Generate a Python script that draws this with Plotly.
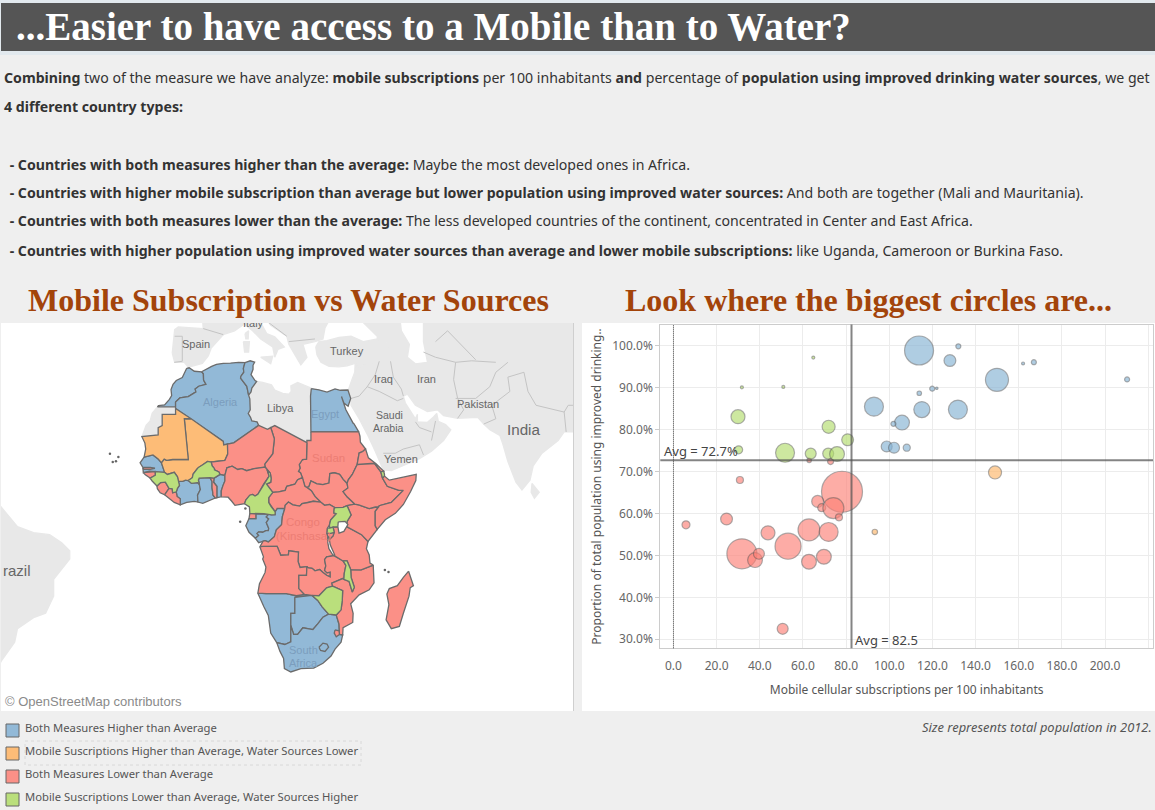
import numpy as np
import plotly.graph_objects as go

W = 1155
H = 810

BLUE = "#92b9d7"
ORANGE = "#fdbc77"
RED = "#fb9087"
GREEN = "#badf7c"
LAND = "#e8e8e8"

LEGEND_NAMES = [
    "Both Measures Higher than Average",
    "Mobile Suscriptions Higher than Average, Water Sources Lower",
    "Both Measures Lower than Average",
    "Mobile Suscriptions Lower than Average, Water Sources Higher",
]

# bubble chart values: mobile subs per 100, % improved water, population (millions)
blue_mobile = [113.8, 128.1, 132.0, 149.9, 162.0, 167.0, 210.2, 92.9, 113.9, 119.9, 122.0, 115.1, 131.8, 105.9, 101.9, 98.8, 102.2, 108.1]
blue_water = [98.9, 96.5, 99.9, 91.9, 95.8, 96.1, 92.0, 85.5, 88.7, 89.8, 89.9, 84.8, 84.8, 81.7, 81.4, 76.0, 75.7, 75.7]
blue_pop = [84, 14, 2.5, 53, 0.9, 2.5, 2.5, 36, 2, 2.5, 0.6, 26, 36, 22, 2.5, 12, 12, 5]

orange_mobile = [149.0, 93.3]
orange_water = [69.8, 55.6]
orange_pop = [17, 3]

red_mobile = [62.9, 72.8, 30.8, 78.1, 66.8, 68.7, 74.1, 76.7, 5.8, 24.6, 43.8, 62.8, 71.9, 53.1, 31.7, 37.8, 39.6, 62.8, 69.7, 50.6]
red_water = [72.7, 72.4, 68.0, 65.2, 62.9, 61.4, 61.3, 59.1, 57.3, 58.7, 55.4, 56.1, 55.6, 52.2, 50.4, 48.9, 50.4, 48.5, 49.7, 32.5]
red_pop = [2, 3.6, 4.9, 168, 14, 6.4, 44, 4.9, 6.4, 14, 19.6, 48, 36, 68, 90, 22, 12, 22, 22, 12]

green_mobile = [29.9, 31.7, 50.9, 64.8, 30.2, 51.7, 63.6, 71.9, 71.7, 75.8, 80.7]
green_water = [83.1, 90.1, 90.2, 97.2, 75.2, 74.5, 74.3, 80.7, 74.3, 74.2, 77.6]
green_pop = [19.6, 0.9, 0.9, 0.9, 6.4, 36, 12, 17, 12, 22, 14]

avg_mobile = 82.5
avg_water = 72.7

# country outlines, (lon, lat)
MOROCCO = [(-5.9,35.8),(-5.3,35.9),(-4.0,35.2),(-2.2,35.1),(-1.75,34.7),(-1.7,33.4),(-1.1,32.5),(-2.9,32.1),(-3.8,31.5),(-3.6,30.9),(-5.5,29.9),(-7.6,29.6),(-8.67,28.7),(-8.67,27.67),(-13.17,27.67),(-12.9,27.95),(-11.4,28.1),(-10.2,29.3),(-9.65,30.1),(-9.8,31.4),(-9.3,32.5),(-8.5,33.3),(-7.0,33.9),(-6.2,35.1)]
ALGERIA = [(-2.2,35.1),(-1.0,35.7),(0.3,36.2),(1.5,36.6),(3.2,36.8),(5.0,36.85),(7.0,37.0),(8.6,36.95),(8.2,35.8),(8.3,35.0),(7.6,34.2),(7.5,33.8),(9.05,32.1),(9.5,30.2),(9.8,29.4),(9.9,27.0),(9.4,26.2),(10.0,25.3),(10.3,24.5),(11.6,24.3),(12.0,23.5),(5.8,19.45),(4.25,19.15),(3.3,18.95),(3.2,19.8),(1.15,21.1),(-4.8,25.0),(-8.67,27.3),(-8.67,28.7),(-7.6,29.6),(-5.5,29.9),(-3.6,30.9),(-3.8,31.5),(-2.9,32.1),(-1.1,32.5),(-1.7,33.4),(-1.75,34.7)]
TUNISIA = [(8.6,36.95),(9.9,37.3),(11.0,37.05),(10.6,36.4),(10.6,35.6),(10.1,34.5),(11.1,33.3),(11.5,33.1),(10.3,31.7),(10.1,30.9),(9.5,30.2),(9.05,32.1),(7.5,33.8),(7.6,34.2),(8.3,35.0),(8.2,35.8)]
LIBYA = [(11.5,33.1),(13,32.9),(15.2,32.4),(16,31.3),(18,30.6),(19.5,30.4),(20.1,31),(20,32.2),(21.7,32.9),(23.2,32.3),(25.1,31.7),(24.9,30),(25,22),(25,20),(24,20),(24,19.5),(16,23.45),(15,23),(14.2,22.6),(12,23.5),(11.6,24.3),(10.3,24.5),(10,25.3),(9.4,26.2),(9.9,27),(9.8,29.4),(9.5,30.2),(10.1,30.9),(10.3,31.7)]
EGYPT = [(25.1,31.6),(27,31.35),(29,30.85),(31,31.55),(32.3,31.25),(34.2,31.3),(34.9,29.5),(34.25,27.8),(33.2,28.5),(32.6,29.9),(33.7,27),(35.5,24),(35.7,23.9),(36.9,22),(25,22),(24.9,30)]
SUDAN = [(25,22),(36.9,22),(37.2,21),(37.3,19.6),(38.6,18),(37.9,17.4),(37,17.05),(36.5,14.3),(35.3,11.9),(34.3,10.6),(34,9.7),(33,10.7),(32.3,11.7),(32,12),(30.8,12.3),(29.7,12.1),(29.5,9.8),(28,9.4),(26.5,9.6),(25,10.3),(24.5,8.9),(24,8.7),(23.5,9),(22.9,11.1),(22.4,12.3),(21.9,12.6),(22.3,13.4),(22.1,14.3),(22.9,15.5),(23.9,15.6),(24,19.5),(24,20),(25,20)]
SOUTH_SUDAN = [(24,8.7),(24.5,8.9),(25,10.3),(26.5,9.6),(28,9.4),(29.5,9.8),(29.7,12.1),(30.8,12.3),(32,12),(32.3,11.7),(33,10.7),(34,9.7),(34.2,8.6),(33,7.7),(34,6.4),(35.9,4.6),(34,4.2),(33,3.8),(31,3.7),(29.6,4.5),(28.4,4.3),(27.4,5.1),(26,6.5),(25.1,7.9)]
CHAD = [(24,19.5),(16,23.45),(15,23),(15.9,20.4),(15.5,16.9),(13.5,14.4),(13.6,13.7),(14.1,13.05),(14.9,12.2),(15.1,10.9),(15,10),(13.95,9.55),(15.5,7.5),(17,7.6),(18.6,8),(19,9),(21,9.5),(21.7,10.6),(22.9,11.1),(22.4,12.3),(21.9,12.6),(22.3,13.4),(22.1,14.3),(22.9,15.5),(23.9,15.6)]
NIGER = [(12,23.5),(14.2,22.6),(15,23),(15.9,20.4),(15.5,16.9),(13.5,14.4),(13.6,13.7),(12.9,13.5),(10.9,13.3),(9,12.8),(7.8,13.3),(6.8,13.1),(5.4,13.9),(4.1,13.5),(3.6,11.7),(2.4,11.9),(2.1,12.5),(1,13),(1,13.3),(0.4,14),(0.2,14.9),(3.6,15.3),(4.3,16.8),(4.25,19.15),(5.8,19.45)]
MALI = [(-4.8,25),(1.15,21.1),(3.2,19.8),(3.3,18.95),(4.25,19.15),(4.3,16.8),(3.6,15.3),(0.2,14.9),(-0.7,15.05),(-2,14.2),(-3,13.6),(-3.3,13.3),(-4.3,12),(-4.5,11.1),(-5.5,10.4),(-6.2,10.5),(-6.9,10.2),(-8,10.2),(-8.2,11.3),(-9,12.4),(-10.7,11.9),(-11.4,12.4),(-12.2,14.75),(-11.5,15.6),(-10.9,15.3),(-9.4,15.5),(-5.5,15.5),(-5.6,16),(-6.5,25)]
MAURITANIA = [(-8.67,27.3),(-4.8,25),(-6.5,25),(-5.6,16),(-5.5,15.5),(-9.4,15.5),(-10.9,15.3),(-11.5,15.6),(-12.2,14.75),(-13,15.6),(-14.3,16.6),(-16.5,16.1),(-16.1,18),(-16.3,19.4),(-17.05,20.9),(-13,21.33),(-13,23),(-12,23.45),(-12,26),(-8.67,26)]
W_SAHARA = [(-8.67,27.67),(-13.17,27.67),(-14.5,26.2),(-15,24.5),(-16,23.5),(-17,21.4),(-17.05,20.9),(-13,21.33),(-13,23),(-12,23.45),(-12,26),(-8.67,26)]
SENEGAL = [(-16.5,16.1),(-14.3,16.6),(-13,15.6),(-12.2,14.75),(-11.4,12.4),(-12.4,12.4),(-13.7,12.6),(-15.2,12.7),(-16.7,12.35),(-16.8,13.6),(-17.5,14.7)]
GAMBIA = [(-16.8,13.15),(-15,13.15),(-13.8,13.4),(-15,13.6),(-16.6,13.6)]
GUINEA_BISSAU = [(-16.7,12.35),(-13.7,12.6),(-13.7,11.7),(-15,11),(-16.2,11.8)]
GUINEA = [(-13.7,12.6),(-12.4,12.4),(-11.4,12.4),(-10.7,11.9),(-9,12.4),(-8.2,11.3),(-8,10.2),(-7.7,9.2),(-8.2,8.5),(-8.5,7.6),(-9.4,7.4),(-9.5,8.4),(-10.3,8.5),(-10.7,9.3),(-11.2,10),(-12.4,9.9),(-13.3,9.05),(-14.5,10.3),(-15,11),(-13.7,11.7)]
SIERRA_LEONE = [(-13.3,9.05),(-12.4,9.9),(-11.2,10),(-10.7,9.3),(-10.3,8.5),(-10.6,8),(-11.4,6.9),(-12.5,7.4),(-13.2,8.4)]
LIBERIA = [(-11.4,6.9),(-10.6,8),(-10.3,8.5),(-9.5,8.4),(-9.4,7.4),(-8.5,7.6),(-8.3,6.5),(-7.5,5.9),(-7.5,4.4),(-9,5),(-10.7,6.2)]
IVORY_COAST = [(-8,10.2),(-6.9,10.2),(-6.2,10.5),(-5.5,10.4),(-4.7,9.7),(-3.2,9.9),(-2.7,9.4),(-2.5,8.2),(-3.2,6.8),(-3.1,5.1),(-4,5.25),(-5.9,5),(-7.5,4.4),(-7.5,5.9),(-8.3,6.5),(-8.5,7.6),(-8.2,8.5),(-7.7,9.2)]
BURKINA = [(-5.5,10.4),(-4.5,11.1),(-4.3,12),(-3.3,13.3),(-3,13.6),(-2,14.2),(-0.7,15.05),(0.2,14.9),(0.4,14),(1,13.3),(1,13),(2.1,12.5),(2.4,11.9),(1.4,11.3),(0.9,11),(-0.1,11.1),(-2.8,11),(-3,10.5),(-2.7,9.4),(-3.2,9.9),(-4.7,9.7)]
GHANA = [(-2.8,11),(-0.1,11.1),(0.4,10.2),(0.4,8.6),(0.6,7.4),(0.6,6.9),(1.2,6.1),(-0.5,5.4),(-1.9,4.8),(-3.1,5.1),(-3.2,6.8),(-2.5,8.2),(-2.7,9.4),(-3,10.5)]
TOGO = [(-0.1,11.1),(0.9,11),(0.8,10),(1.6,9),(1.6,6.2),(1.2,6.1),(0.6,6.9),(0.6,7.4),(0.4,8.6),(0.4,10.2)]
BENIN = [(0.9,11),(1.4,11.3),(2.4,11.9),(3.6,11.7),(3.6,10.3),(3.1,9.1),(2.7,7.9),(2.7,6.4),(1.6,6.2),(1.6,9),(0.8,10)]
NIGERIA = [(2.7,6.4),(2.7,7.9),(3.1,9.1),(3.6,10.3),(3.6,11.7),(4.1,13.5),(5.4,13.9),(6.8,13.1),(7.8,13.3),(9,12.8),(10.9,13.3),(12.9,13.5),(13.6,13.7),(14.1,13.05),(14.6,11.5),(13.2,9.5),(12.8,8.7),(11.8,7),(11.1,6.6),(10.5,7),(9.8,6.8),(8.8,5.6),(8.5,4.7),(7.1,4.5),(6.1,4.3),(5.3,5.3),(4.4,6.3)]
CAMEROON = [(14.1,13.05),(14.9,12.2),(15.1,10.9),(15,10),(13.95,9.55),(15.5,7.5),(14.5,6.2),(14.5,5),(15.1,4),(16.1,2.7),(16.1,2),(15.2,1.9),(13.3,2.2),(9.8,2.3),(9.7,3.9),(8.9,4.5),(8.5,4.7),(8.8,5.6),(9.8,6.8),(10.5,7),(11.1,6.6),(11.8,7),(12.8,8.7),(13.2,9.5),(14.6,11.5)]
CAR = [(15.5,7.5),(17,7.6),(18.6,8),(19,9),(21,9.5),(21.7,10.6),(22.9,11.1),(23.5,9),(24,8.7),(25.1,7.9),(26,6.5),(27.4,5.1),(25.6,5.3),(24,4.9),(22.8,4.7),(22.2,4.1),(20.5,4.4),(19.4,5.1),(18.6,4.3),(18.5,3.5),(17,3.6),(16.6,3.5),(16.1,2.7),(15.1,4),(14.5,5),(14.5,6.2)]
EQ_GUINEA = [(9.8,2.3),(11.3,2.2),(11.3,1),(9.6,1)]
GABON = [(9.6,1),(11.3,1),(11.3,2.2),(13.3,2.2),(14.5,2.1),(13.9,1.4),(14.5,0.9),(13.9,0),(14.5,-1.4),(14.4,-2),(13.8,-2),(13,-2.4),(12,-2.3),(11.6,-2.7),(12,-3.2),(11.2,-3.9),(9.6,-2.4),(8.8,-0.8),(9.3,0.3)]
CONGO = [(16.1,2.7),(16.6,3.5),(17,3.6),(18.5,3.5),(17.9,1.5),(17.7,-0.5),(16.4,-1.8),(15.9,-3.5),(15,-4.3),(14.4,-4.8),(13.6,-4.5),(13.1,-4.6),(12,-5),(11.2,-3.9),(12,-3.2),(11.6,-2.7),(12,-2.3),(13,-2.4),(13.8,-2),(14.4,-2),(14.5,-1.4),(13.9,0),(14.5,0.9),(13.9,1.4),(14.5,2.1),(15.2,1.9),(16.1,2)]
DR_CONGO = [(18.5,3.5),(18.6,4.3),(19.4,5.1),(20.5,4.4),(22.2,4.1),(22.8,4.7),(24,4.9),(25.6,5.3),(27.4,5.1),(28.4,4.3),(29.6,4.5),(31,3.7),(30.8,3.5),(30.7,2.4),(31.3,2.2),(29.9,0.6),(29.6,-0.6),(29.1,-1.4),(29,-2.7),(29.2,-3.3),(29.4,-4.4),(29.6,-6.5),(30.8,-8.2),(28.9,-8.5),(28.4,-9.2),(28.7,-10.7),(28.4,-11.8),(29,-12.4),(29.8,-12.2),(29.8,-13.4),(28.9,-13),(28,-12.3),(27.2,-11.6),(26,-11.9),(25.3,-11.3),(24.4,-11.2),(24,-10.9),(22.3,-11.1),(21.8,-9.6),(21.9,-7.3),(19.5,-7),(19.4,-8),(17.5,-8.1),(16.6,-5.9),(13,-5.9),(12.3,-6),(13.1,-4.6),(13.6,-4.5),(14.4,-4.8),(15,-4.3),(15.9,-3.5),(16.4,-1.8),(17.7,-0.5),(17.9,1.5)]
ANGOLA = [(12.3,-6),(13,-5.9),(16.6,-5.9),(17.5,-8.1),(19.4,-8),(19.5,-7),(21.9,-7.3),(21.8,-9.6),(22.3,-11.1),(24,-10.9),(23.9,-13),(22,-13),(22,-16.2),(23.4,-17.6),(21.4,-17.9),(18.9,-17.4),(13.9,-17.4),(11.8,-17.3),(12.2,-15),(13.6,-12.3),(13.8,-11),(13,-9),(13.2,-8.5)]
NAMIBIA = [(11.8,-17.3),(13.9,-17.4),(18.9,-17.4),(21.4,-17.9),(23.4,-17.6),(25.2,-17.8),(23.4,-18),(21,-18.3),(21,-22),(20,-22),(20,-28.4),(18.5,-29),(16.5,-28.6),(15,-26.5),(14.4,-22.5),(13.3,-20.5)]
BOTSWANA = [(21,-18.3),(23.4,-18),(25.2,-17.8),(26.7,-19),(27.8,-20.5),(29.4,-22.2),(28,-22.9),(26.8,-24.3),(25.5,-25.7),(23,-25.3),(21.7,-26.8),(20.7,-26.8),(20,-24.8),(20,-22),(21,-22)]
ZAMBIA = [(30.8,-8.2),(33,-9.5),(33.7,-10.6),(33.3,-12.5),(33.2,-14),(32.9,-13.8),(30.2,-14.9),(30.4,-15.6),(28.9,-16),(27,-17.9),(25.2,-17.8),(23.4,-17.6),(22,-16.2),(22,-13),(23.9,-13),(24,-10.9),(24.4,-11.2),(25.3,-11.3),(26,-11.9),(27.2,-11.6),(28,-12.3),(28.9,-13),(29.8,-13.4),(29.8,-12.2),(29,-12.4),(28.4,-11.8),(28.7,-10.7),(28.4,-9.2),(28.9,-8.5)]
ZIMBABWE = [(25.2,-17.8),(27,-17.9),(28.9,-16),(30.4,-15.6),(32.9,-16.7),(32.8,-19),(32.5,-21.2),(31.3,-22.4),(29.4,-22.2),(27.8,-20.5),(26.7,-19)]
MOZAMBIQUE = [(40.5,-10.5),(40.7,-14.8),(39.5,-16.5),(37,-17.7),(34.9,-19.8),(35.5,-22),(35.4,-24.1),(33,-25.3),(32.9,-26.9),(32.1,-26.8),(32,-24.5),(31.3,-22.4),(32.5,-21.2),(32.8,-19),(32.9,-16.7),(30.4,-15.6),(30.2,-14.9),(32.9,-13.8),(33.2,-14),(34.5,-14.5),(35.3,-17),(35.8,-15.9),(35,-13.5),(34.9,-11.6),(37.5,-11.7),(38.5,-11.3)]
MALAWI = [(33,-9.5),(34,-9.5),(34.9,-11.6),(35,-13.5),(35.8,-15.9),(35.3,-17),(34.5,-14.5),(33.2,-14),(33.3,-12.5),(33.7,-10.6)]
TANZANIA = [(33.9,-1),(37.6,-3),(39.2,-4.7),(38.8,-6.5),(39.5,-8),(39.7,-10),(40.5,-10.5),(38.5,-11.3),(37.5,-11.7),(34.9,-11.6),(34,-9.5),(33,-9.5),(30.8,-8.2),(29.6,-6.5),(29.4,-4.4),(30.5,-3.3),(30.8,-2.4),(30.5,-1.1),(31.9,-1)]
KENYA = [(33.9,-1),(34,0.3),(35,1.9),(34,4.2),(35.9,4.6),(36.9,4.4),(39.5,3.5),(41,3.9),(41.9,3.95),(41,2.8),(41,-0.8),(41.5,-1.7),(39.2,-4.7),(37.6,-3)]
UGANDA = [(30.5,-1.1),(31.9,-1),(33.9,-1),(34,0.3),(35,1.9),(34,4.2),(33,3.8),(31,3.7),(30.8,3.5),(30.7,2.4),(31.3,2.2),(29.9,0.6),(29.6,-0.6),(29.7,-1.4)]
RWANDA = [(29.1,-1.4),(29.7,-1.4),(30.5,-1.1),(30.8,-2.4),(29.9,-2.7),(29,-2.7)]
BURUNDI = [(29,-2.7),(29.9,-2.7),(30.8,-2.4),(30.5,-3.3),(29.4,-4.4),(29.2,-3.3)]
ETHIOPIA = [(36.5,14.3),(38,14.5),(39.5,14.5),(40.8,14.6),(42.4,12.5),(42.8,11),(44,9),(46.9,8),(48,8),(45,5),(42,4.2),(41.9,3.95),(41,3.9),(39.5,3.5),(36.9,4.4),(35.9,4.6),(34,6.4),(33,7.7),(34.2,8.6),(34,9.7),(34.3,10.6),(35.3,11.9)]
ERITREA = [(36.5,14.3),(37,17.05),(37.9,17.4),(38.6,18),(39.3,15.9),(41.2,14.5),(43.1,12.7),(42.4,12.5),(40.8,14.6),(39.5,14.5),(38,14.5)]
DJIBOUTI = [(42.4,12.5),(43.1,12.7),(43.3,11.9),(43.3,11.5),(42.8,11)]
SOMALIA = [(42.8,11),(43.3,11.5),(44.5,10.5),(46,10.8),(48,11.2),(51.2,11.9),(51.1,10.4),(49.8,7.7),(48,4.5),(46,2.3),(43.5,0.7),(41.5,-1.7),(41,-0.8),(41,2.8),(41.9,3.95),(42,4.2),(45,5),(48,8),(46.9,8),(44,9)]
MADAGASCAR = [(49.3,-12),(50.5,-15.5),(49.7,-16),(49.4,-18),(48,-22),(47,-25),(45,-25.5),(43.7,-23.5),(44.4,-20),(43.9,-17.5),(44.5,-16.2),(46.5,-15.5),(48,-13.5)]
SOUTH_AFRICA = [(16.5,-28.6),(18.5,-29),(20,-28.4),(20,-24.8),(20.7,-26.8),(21.7,-26.8),(23,-25.3),(25.5,-25.7),(26.8,-24.3),(28,-22.9),(29.4,-22.2),(31.3,-22.4),(32,-24.5),(32.1,-26.8),(32.9,-26.9),(32.5,-28.5),(31,-30),(30,-31.5),(28,-33),(25.7,-34),(22.5,-34.1),(20,-34.8),(18.4,-34.1),(18.2,-32),(17.3,-30.5)]
LESOTHO = [(27,-29.6),(28,-28.7),(29,-28.9),(29.4,-29.6),(28.5,-30.5),(27.4,-30.3)]
SWAZILAND = [(31,-25.8),(32,-26),(32.1,-26.8),(31.3,-27.3),(30.8,-26.5)]
LAKE_VICTORIA = [(31.8,0.2),(33.5,0.3),(34.2,-0.5),(33.2,-2.2),(32,-2.6),(31.7,-1)]
LAKE_TANGANYIKA = [(29.2,-3.4),(29.5,-3.6),(29.8,-5.5),(30.9,-8),(30.5,-8.1),(29.5,-6.5),(29.2,-5)]

# grey countries around Africa
IBERIA = [(-9.5,38.8),(-8.9,43.2),(-8,43.7),(-1.8,43.4),(3.2,42.3),(0.2,39.8),(-0.5,38.3),(-2,36.8),(-5.5,36),(-6.5,37),(-8.9,37)]
FRANCE = [(-2,45.5),(-1.8,43.4),(3.2,42.3),(6,43),(8,44),(8,45.5)]
ITALY = [(8,44.4),(10.5,43),(12.5,41.5),(15.5,40),(16,38),(16.8,39.5),(18.4,40),(16,41.9),(14,42.5),(12.5,44.5),(13.5,45.5),(8,45.5)]
SICILY = [(12.5,38),(15.5,38.2),(15,36.7)]
SARDINIA = [(8.2,41),(9.7,41),(9.5,39),(8.5,39)]
CORSICA = [(8.6,42.5),(9.5,43),(9.4,41.5),(8.8,41.5)]
BALKANS = [(13.5,45.5),(15,44),(19,42),(19.5,40.5),(21,38.5),(22.5,36.5),(24,38),(23,40.5),(26,41),(28,41.5),(28.5,43.5),(30,45.5)]
TURKEY = [(26.2,40),(26.5,38.5),(27.5,37),(29.5,36.2),(32,36.1),(34,36.3),(36,36.8),(36.5,36),(42,37.2),(44.8,37.2),(44.8,39.7),(43.5,41),(41.5,41.5),(38,41),(35,42),(32,41.8),(29,41.2),(27,41)]
ASIA = [(36,36.8),(35.9,35),(35,33),(34.3,31.3),(34.9,29.5),(35,28),(37,25),(39,21.5),(41,17.5),(43,13),(45,12.8),(48,14),(52,15.7),(55,17.5),(58,20),(59.8,22.5),(58.5,23.7),(56.7,24.4),(56.3,26.2),(55.5,25.4),(54,24.2),(51.5,24.3),(51.5,26),(51,25),(50,26.5),(48.5,28.5),(48,30),(49,30.4),(51,28),(54,26.6),(56.5,27),(58,25.7),(61.5,25.1),(66.5,25.3),(68,23.8),(69.5,22.5),(72,21.2),(72.8,19),(74,15),(76,10),(77.5,8.1),(79.5,10.5),(80.3,14),(82.5,17),(86.5,20),(88,22),(90.3,22),(92,21),(92,46),(53,46),(53,41),(54,37),(51,36.7),(49,38),(49.5,40.5),(47.5,43),(47,46),(38,46),(38,44.5),(41.5,42),(41.5,41.5),(43.5,41),(44.8,39.7),(44.8,37.2),(42,37.2),(36.5,36)]
SRI_LANKA = [(80,9.7),(81.8,7.5),(80.6,6),(79.8,7.5)]
BRAZIL = [(-53,5),(-50,1.5),(-48,-1),(-44,-2.5),(-40,-3),(-37,-5),(-35,-7),(-35,-9),(-37,-11.5),(-39,-14),(-39,-18),(-41,-22),(-44,-23),(-48,-25.5),(-48.7,-28.5),(-52,-32.5),(-53,-34)]

BORDERS = [
    [(42,37.2),(41,34.5),(39,32),(42,31),(46.5,29),(48,29.5)],
    [(44.8,37.2),(45.5,34),(47.5,31.5),(48,30)],
    [(35,29.5),(37,30),(39,32)],
    [(61,37),(60.5,33.5),(61,31.5),(61.5,29.5),(63,27),(61.5,25.1)],
    [(61,29.5),(66,29.5),(69.5,32),(71,35),(74,37)],
    [(53,39),(56,38),(61,37),(65,37.3),(71,37)],
    [(68,23.8),(71,25),(70,28),(74.5,31),(74,34),(78,35)],
    [(78,35),(79,31),(81,28),(88,26.5),(89,28),(92,28)],
    [(88,26.5),(88.5,22)],
    [(43,17),(46,17),(48,18),(52,19),(53,16.6)],
    [(55,20),(55.5,22),(56,24.5)],
    [(51,24.3),(52,23),(55,22)],
    [(56,41),(59,43),(66,37.5)],
    [(-9,37),(-7,37.2),(-7,42),(-8.9,42)],
    [(-1.8,43.4),(3.2,42.3)],
    [(13.5,45),(19,42)],
    [(19.5,41),(26,41.5)],
]

CAPE_VERDE_LON = [-25.0, -23.5, -24.3, -22.9]
CAPE_VERDE_LAT = [16.9, 15.1, 14.9, 16.1]
OTHER_ISLANDS_LON = [7.4, 8.7, 43.4, 44.3]
OTHER_ISLANDS_LAT = [0.2, 3.5, -11.7, -12.2]

BLUE_COUNTRIES = [MOROCCO, ALGERIA, TUNISIA, EGYPT, SENEGAL, IVORY_COAST, GHANA, BENIN, GABON, CONGO, NAMIBIA, BOTSWANA, SOUTH_AFRICA, LESOTHO]
ORANGE_COUNTRIES = [MALI, MAURITANIA]
RED_COUNTRIES = [SUDAN, SOUTH_SUDAN, CHAD, NIGER, GAMBIA, GUINEA_BISSAU, SIERRA_LEONE, LIBERIA, TOGO, NIGERIA, CAR, EQ_GUINEA, DR_CONGO, ANGOLA, ZAMBIA, MOZAMBIQUE, TANZANIA, KENYA, BURUNDI, ETHIOPIA, ERITREA, SOMALIA, MADAGASCAR, SWAZILAND]
GREEN_COUNTRIES = [GUINEA, BURKINA, CAMEROON, ZIMBABWE, MALAWI, UGANDA, RWANDA, DJIBOUTI]
GREY_COUNTRIES = [LIBYA, W_SAHARA, IBERIA, FRANCE, ITALY, SICILY, SARDINIA, CORSICA, BALKANS, TURKEY, ASIA, SRI_LANKA, BRAZIL]


def merc(lat):
    return np.log(np.tan(np.pi / 4 + np.radians(np.array(lat, dtype=float)) / 2))


def px(x):
    return x / W


def py(y):
    return 1 - y / H


def add_country(fig, pts, fill, line):
    lon = [p[0] for p in pts] + [pts[0][0]]
    lat = [p[1] for p in pts] + [pts[0][1]]
    fig.add_trace(go.Scatter(x=lon, y=merc(lat), mode="lines", fill="toself", fillcolor=fill,
                             line=dict(color=line, width=1.3), xaxis="x2", yaxis="y2",
                             hoverinfo="skip", showlegend=False))


def text(x, y, s, size=14, color="#333333", font="Noto Sans", anchor="left", **kw):
    return dict(x=px(x), y=py(y), xref="paper", yref="paper", text=s, showarrow=False,
                xanchor=anchor, yanchor="middle", align=anchor,
                font=dict(family=font, size=size, color=color), **kw)


fig = go.Figure()

# map
for c in GREY_COUNTRIES:
    add_country(fig, c, LAND, LAND)
for b in BORDERS:
    fig.add_trace(go.Scatter(x=[p[0] for p in b], y=merc([p[1] for p in b]), mode="lines",
                             line=dict(color="#c4c4c4", width=1), xaxis="x2", yaxis="y2",
                             hoverinfo="skip", showlegend=False))
for group, col in [(BLUE_COUNTRIES, BLUE), (ORANGE_COUNTRIES, ORANGE), (RED_COUNTRIES, RED), (GREEN_COUNTRIES, GREEN)]:
    for c in group:
        add_country(fig, c, col, "#6b6b6b")
for lake in [LAKE_VICTORIA, LAKE_TANGANYIKA]:
    add_country(fig, lake, "white", "#6b6b6b")
fig.add_trace(go.Scatter(x=CAPE_VERDE_LON + OTHER_ISLANDS_LON, y=merc(CAPE_VERDE_LAT + OTHER_ISLANDS_LAT),
                         mode="markers", marker=dict(size=2.5, color="#666666"), xaxis="x2", yaxis="y2",
                         hoverinfo="skip", showlegend=False))
# Italy's label is cut by the top of the map, a text trace gets clipped by the axes
fig.add_trace(go.Scatter(x=[10.6], y=merc([44.15]), mode="text", text=["Italy"], textposition="middle center",
                         textfont=dict(family="Liberation Sans", size=11, color="#666666"),
                         xaxis="x2", yaxis="y2", hoverinfo="skip", showlegend=False))

# bubbles
for xs, ys, pop, col, name in [
    (blue_mobile, blue_water, blue_pop, "rgba(132,178,212,0.92)", LEGEND_NAMES[0]),
    (orange_mobile, orange_water, orange_pop, "rgba(253,182,105,0.92)", LEGEND_NAMES[1]),
    (red_mobile, red_water, red_pop, "rgba(253,128,118,0.92)", LEGEND_NAMES[2]),
    (green_mobile, green_water, green_pop, "rgba(178,220,108,0.92)", LEGEND_NAMES[3]),
]:
    fig.add_trace(go.Scatter(x=xs, y=ys, mode="markers", name=name, showlegend=False,
                             marker=dict(size=pop, sizemode="area", sizeref=0.2, color=col,
                                         line=dict(color="rgba(80,80,80,0.65)", width=1.2))))

shapes = [
    dict(type="rect", xref="paper", yref="paper", x0=0, x1=1, y0=py(55), y1=1,
         fillcolor="#e2e9ee", line_width=0, layer="below"),
    dict(type="rect", xref="paper", yref="paper", x0=px(1), x1=px(1155), y0=py(3), y1=py(51),
         fillcolor="#555555", line_width=0, layer="below"),
    dict(type="rect", xref="paper", yref="paper", x0=px(1), x1=px(574), y0=py(323), y1=py(711),
         fillcolor="white", line_width=0, layer="below"),
    dict(type="line", xref="paper", yref="paper", x0=px(573.5), x1=px(573.5), y0=py(323), y1=py(711),
         line=dict(color="#cfcfcf", width=1), layer="above"),
    dict(type="rect", xref="paper", yref="paper", x0=px(582), x1=px(1155), y0=py(323), y1=py(711),
         fillcolor="white", line_width=0, layer="below"),
    dict(type="line", xref="x", yref="paper", x0=avg_mobile, x1=avg_mobile, y0=py(648.3), y1=py(324.5),
         line=dict(color="rgba(80,80,80,0.7)", width=2), layer="above"),
    dict(type="line", xref="paper", yref="y", x0=px(660.3), x1=px(1153), y0=avg_water, y1=avg_water,
         line=dict(color="rgba(80,80,80,0.7)", width=2), layer="above"),
    dict(type="line", xref="x", yref="paper", x0=0, x1=0, y0=py(648.3), y1=py(324.5),
         line=dict(color="#444444", width=1, dash="1px,1px"), layer="above"),
    dict(type="rect", xref="paper", yref="paper", x0=px(25), x1=px(361), y0=py(741), y1=py(765),
         fillcolor="rgba(0,0,0,0)", line=dict(color="#d8d8d8", width=1, dash="dot"), layer="below"),
]
for yy, col in zip([724, 747, 770, 793], [BLUE, ORANGE, RED, GREEN]):
    shapes.append(dict(type="rect", xref="paper", yref="paper", x0=px(6), x1=px(19), y0=py(yy), y1=py(yy + 13),
                       fillcolor=col, line=dict(color="#666666", width=1), layer="below"))

body = "Noto Sans"
annotations = [
    text(14, 27, "<b>...Easier to have access to a Mobile than to Water?</b>", size=39, color="white", font="Liberation Serif"),
    text(2, 77, "<b>Combining</b> two of the measure we have analyze: <b>mobile subscriptions</b> per 100 inhabitants <b>and</b> percentage of <b>population using improved drinking water sources</b>, we get", size=14.14, font=body),
    text(2, 106, "<b>4 different country types:</b>", size=14.14, font=body),
    text(4, 164, "<b> - Countries with both measures higher than the average:</b> Maybe the most developed ones in Africa.", size=14.14, font=body),
    text(4, 192, "<b> - Countries with higher mobile subscription than average but lower population using improved water sources:</b> And both are together (Mali and Mauritania).", size=14.14, font=body),
    text(4, 221, "<b> - Countries with both measures lower than the average:</b> The less developed countries of the continent, concentrated in Center and East Africa.", size=14.14, font=body),
    text(4, 250, "<b> - Countries with higher population using improved water sources than average and lower mobile subscriptions:</b> like Uganda, Cameroon or Burkina Faso.", size=14.14, font=body),
    text(288, 300, "<b>Mobile Subscription vs Water Sources</b>", size=32, color="#a3440a", font="Liberation Serif", anchor="center"),
    text(868, 300, "<b>Look where the biggest circles are...</b>", size=32, color="#a3440a", font="Liberation Serif", anchor="center"),
    text(3, 701, "© OpenStreetMap contributors", size=13, color="#8a8a8a", font="Liberation Sans"),
    text(1154, 727, "<i>Size represents total population in 2012.</i>", size=12.9, color="#555555", font=body, anchor="right"),
    text(662, 451, "Avg = 72.7%", size=13, color="#444444", font=body),
    text(853, 640, "Avg = 82.5", size=13, color="#444444", font=body),
]
for yy, name in zip([727, 750, 773, 796], LEGEND_NAMES):
    annotations.append(text(23, yy, name, size=11.25, color="#555555", font=body))
for x, y, s, size, col in [
    (196, 344, "Spain", 11, "#666666"), (347, 351, "Turkey", 11, "#666666"),
    (383, 379, "Iraq", 11, "#666666"), (426, 379, "Iran", 11, "#666666"), (280, 408, "Libya", 11, "#666666"),
    (389, 415, "Saudi", 10.5, "#666666"), (388, 428, "Arabia", 10.5, "#666666"), (401, 459, "Yemen", 11, "#666666"),
    (478, 404, "Pakistan", 11, "#666666"), (523, 429, "India", 15.2, "#666666"), (17, 570, "razil", 15, "#666666"),
    (220, 402, "Algeria", 11, "#7b9dbd"), (325, 414, "Egypt", 11, "#7b9dbd"), (328, 458, "Sudan", 11.5, "#ec7d74"),
    (303, 522, "Congo", 11.5, "#ec7d74"), (303, 536, "(Kinshasa)", 11.5, "#ec7d74"),
    (303, 650, "South", 11, "#7b9dbd"), (303, 663, "Africa", 11, "#7b9dbd"),
]:
    annotations.append(text(x, y, s, size=size, color=col, font="Liberation Sans", anchor="center"))

fig.update_layout(
    width=W,
    height=H,
    margin=dict(l=0, r=0, t=0, b=0),
    paper_bgcolor="#efefef",
    plot_bgcolor="rgba(0,0,0,0)",
    shapes=shapes,
    annotations=annotations,
    xaxis=dict(domain=[px(660.3), px(1153)], range=[-6.1, 222.2], tick0=0, dtick=20, tickformat=".1f",
               showgrid=True, gridcolor="#ececec", zeroline=False, showline=True, linecolor="#cccccc",
               mirror=True, ticks="outside", ticklen=6, tickcolor="rgba(0,0,0,0)",
               tickfont=dict(family=body, size=12, color="#666666"),
               title=dict(text="Mobile cellular subscriptions per 100 inhabitants", standoff=12,
                          font=dict(family=body, size=12, color="#555555"))),
    yaxis=dict(domain=[py(648.3), py(324.5)], range=[27.85, 105.1], tick0=0, dtick=10, tickformat=".1f", ticksuffix="%",
               showgrid=True, gridcolor="#ececec", zeroline=False, showline=True, linecolor="#cccccc",
               mirror=True, ticks="outside", ticklen=4, tickcolor="#cccccc",
               tickfont=dict(family=body, size=12, color="#666666"),
               title=dict(text="Proportion of total population using improved drinking..", standoff=8,
                          font=dict(family=body, size=12, color="#555555"))),
    xaxis2=dict(domain=[px(1), px(573)], range=[-52.1, 90.2], visible=False, anchor="y2"),
    yaxis2=dict(domain=[py(711), py(323)], range=[-0.8181, 0.8667], visible=False, anchor="x2"),
)

# the page's default body margin would push the chart off the window
fig.write_html("out.html", config={"displayModeBar": False}, post_script="document.body.style.margin='0';")
